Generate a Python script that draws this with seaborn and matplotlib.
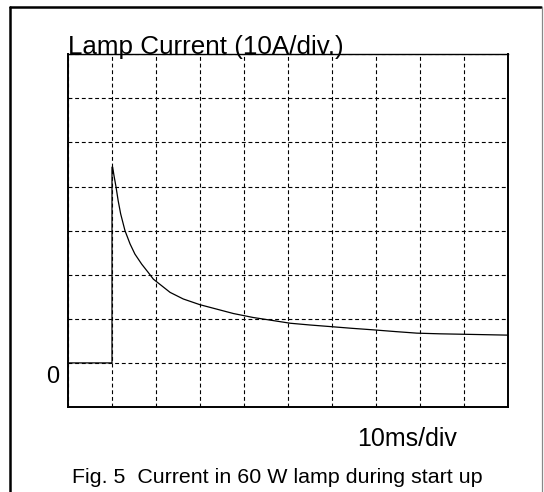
import matplotlib
matplotlib.use("Agg")
import matplotlib.pyplot as plt
from matplotlib.lines import Line2D
import numpy as np
import pandas as pd
import seaborn as sns

# ---- data ----
time_ms = [0, 10, 10, 10.15, 10.45, 10.9, 11.4, 11.97, 12.95, 14.1, 15.2, 16.75,
           18.25, 19.4, 21.3, 23.2, 26.2, 30, 33.8, 37.6, 42.1, 46, 50.5, 55,
           59.5, 64.5, 69.4, 74.5, 79.3, 84.5, 89.8, 95, 100]
current_A = [0, 0, 44.4, 44.4, 42.5, 40, 36.8, 33.8, 30, 27.0, 24.7, 22.4,
             20.5, 19.0, 17.5, 16.0, 14.5, 13.2, 12.2, 11.2, 10.3, 9.7, 9.0, 8.6,
             8.25, 7.85, 7.5, 7.1, 6.75, 6.6, 6.5, 6.4, 6.3]
x_ticks = list(range(0, 101, 10))
y_ticks = list(range(-10, 71, 10))

title_text = "Lamp Current (10A/div.)"
zero_label = "0"
xscale_text = "10ms/div"
caption_text = "Fig. 5  Current in 60 W lamp during start up"

sns.set_style("white")
plt.rcParams['font.family'] = ['Liberation Sans', 'DejaVu Sans']

W, H = 544, 492
fig = plt.figure(figsize=(W / 100, H / 100), dpi=100)
L, R, T, B = 68, 508, 54.3, 407
ax = fig.add_axes([L / W, 1 - B / H, (R - L) / W, (B - T) / H])

df = pd.DataFrame({"t": time_ms, "I": current_A})
sns.lineplot(data=df, x="t", y="I", ax=ax, estimator=None, sort=False,
             color="black", linewidth=0.9, zorder=3)

ax.set_xlim(0, 100)
ax.set_ylim(-10, 70)
ax.set_xticks(x_ticks)
ax.set_yticks(y_ticks)
ax.tick_params(length=0, labelbottom=False, labelleft=False)
ax.set_xlabel("")
ax.set_ylabel("")
ax.grid(True, color="black", linestyle=(0, (3.5, 2.5)), linewidth=0.8)
for side, sp in ax.spines.items():
    sp.set_visible(True)
    sp.set_color("black")
    sp.set_linewidth(1.4 if side in ("left", "bottom", "right") else 1.0)

# title sitting on top of the plot frame
ax.text(0.0, 1.0, title_text, transform=ax.transAxes, ha="left", va="baseline",
        fontsize=18.7, color="black")

# zero label
ax.text(-15 / (R - L), -4.6, zero_label, transform=ax.get_yaxis_transform(),
        ha="center", va="baseline", fontsize=17, color="black")

fig.text(407 / W, 1 - 446.5 / H, xscale_text, ha="center", va="baseline",
         fontsize=18, color="black")
fig.text(72 / W, 1 - 483.3 / H, caption_text, ha="left", va="baseline",
         fontsize=15.4, color="black")

# outer frame
fig.add_artist(Line2D([10 / W, 541 / W], [1 - 7 / H, 1 - 7 / H],
                      transform=fig.transFigure, color="black", linewidth=1.8))
fig.add_artist(Line2D([10 / W, 10 / W], [1 - 7 / H, 0],
                      transform=fig.transFigure, color="black", linewidth=1.8))
fig.add_artist(Line2D([542 / W, 542 / W], [1 - 7 / H, 0],
                      transform=fig.transFigure, color="#888888", linewidth=0.9))

fig.savefig("out.png", dpi=100, facecolor="white")
